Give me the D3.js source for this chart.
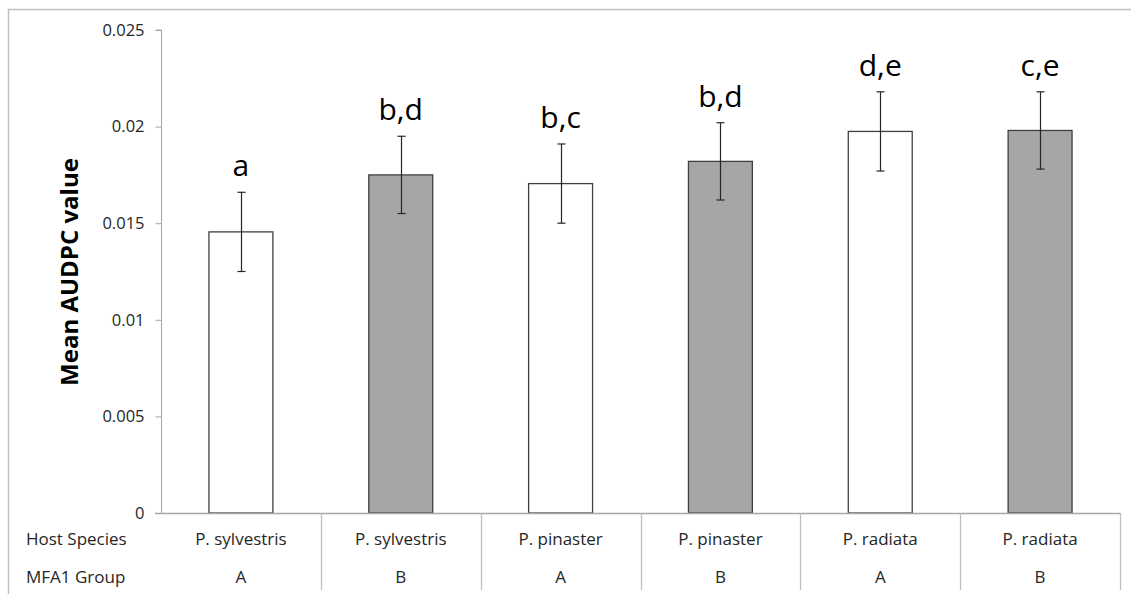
<!DOCTYPE html>
<html><head><meta charset="utf-8">
<script src="https://cdn.jsdelivr.net/npm/d3@7"></script>
<style>body{margin:0;background:#fff;} svg{display:block;}</style>
</head><body>
<svg id="c" width="1131" height="594"></svg>
<script>
const hostSpecies = ["P. sylvestris","P. sylvestris","P. pinaster","P. pinaster","P. radiata","P. radiata"];
const mfa1Group = ["A","B","A","B","A","B"];
const meanValues = [0.01455, 0.01750, 0.01705, 0.01820, 0.01975, 0.01980];
const errorValues = [0.00205, 0.00200, 0.00205, 0.00200, 0.00205, 0.00200];
const letters = ["a","b,d","b,c","b,d","d,e","c,e"];
const yTicks = [0, 0.005, 0.01, 0.015, 0.02, 0.025];

const svg = d3.select("#c");
const font = "'Open Sans', sans-serif";
const plotLeft = 161, plotRight = 1120, plotTop = 30, zeroY = 513;
const cats = d3.range(hostSpecies.length);
const x = d3.scaleBand().domain(cats).range([plotLeft, plotRight]).paddingInner(0).paddingOuter(0);
const y = d3.scaleLinear().domain([0, 0.025]).range([zeroY, plotTop]);

// outer border
svg.append("path").attr("d", `M8.5,600 V9.5 H1131`).attr("fill","none").attr("stroke","#bfbfbf").attr("stroke-width",1.5);

// bars
const bw = x.bandwidth()*0.4;
svg.selectAll("rect.bar").data(cats).enter().append("rect")
  .attr("x", i => x(i) + (x.bandwidth()-bw)/2)
  .attr("y", i => y(meanValues[i]))
  .attr("width", bw)
  .attr("height", i => zeroY - y(meanValues[i]))
  .attr("fill", i => mfa1Group[i]==="A" ? "#ffffff" : "#a6a6a6")
  .attr("stroke", "#404040").attr("stroke-width", 1.3);

// error bars
const eb = svg.append("g").attr("stroke","#262626").attr("stroke-width",1.2);
cats.forEach(i => {
  const cx = Math.round(x(i) + x.bandwidth()/2) + 0.5;
  const y1 = y(meanValues[i]+errorValues[i]), y0 = y(meanValues[i]-errorValues[i]);
  eb.append("line").attr("x1",cx).attr("x2",cx).attr("y1",y1).attr("y2",y0);
  eb.append("line").attr("x1",cx-4).attr("x2",cx+4).attr("y1",y1).attr("y2",y1);
  eb.append("line").attr("x1",cx-4).attr("x2",cx+4).attr("y1",y0).attr("y2",y0);
});

// letters
svg.selectAll("text.let").data(cats).enter().append("text")
  .attr("x", i => x(i) + x.bandwidth()/2)
  .attr("y", i => y(meanValues[i]+errorValues[i]) - 16)
  .attr("text-anchor","middle").attr("font-family",font).attr("font-size",30)
  .attr("fill","#000").text(i => letters[i]);

// y axis
const yAxis = d3.axisLeft(y).tickValues(yTicks).tickSize(6).tickPadding(11)
  .tickFormat(d => d===0 ? "0" : String(+d.toFixed(3)));
const ga = svg.append("g").attr("transform",`translate(${plotLeft+0.5},0)`).call(yAxis);
ga.select(".domain").attr("stroke","#a6a6a6").attr("d", `M-6,${plotTop}H0V${zeroY}`);
ga.selectAll(".tick line").attr("stroke","#a6a6a6");
ga.selectAll(".tick text").attr("font-family",font).attr("font-size",16.5).attr("fill","#262626");

// y title
svg.append("text").attr("transform","translate(68,272) rotate(-90)")
  .attr("text-anchor","middle").attr("dominant-baseline","central")
  .attr("font-family",font).attr("font-weight","bold").attr("font-size",24)
  .attr("fill","#000").text("Mean AUDPC value");

// data table lines
const tl = svg.append("g").attr("stroke","#bfbfbf").attr("stroke-width",1.3);
tl.append("line").attr("x1",plotLeft-6).attr("x2",plotRight).attr("y1",zeroY+0.5).attr("y2",zeroY+0.5).attr("stroke","#a6a6a6");
cats.forEach(i => {
  const xr = Math.round(x(i)+x.bandwidth()) + 0.5;
  tl.append("line").attr("x1",xr).attr("x2",xr).attr("y1",zeroY).attr("y2",590);
});

// table texts
svg.append("text").attr("x",26).attr("y",538).attr("dominant-baseline","central")
  .attr("font-family",font).attr("font-size",17).attr("fill","#262626").text("Host Species");
svg.append("text").attr("x",26).attr("y",576).attr("dominant-baseline","central")
  .attr("font-family",font).attr("font-size",17).attr("fill","#262626").text("MFA1 Group");
svg.selectAll("text.hs").data(cats).enter().append("text")
  .attr("x", i => x(i)+x.bandwidth()/2).attr("y",538).attr("dominant-baseline","central")
  .attr("text-anchor","middle").attr("font-family",font).attr("font-size",17).attr("fill","#262626")
  .text(i => hostSpecies[i]);
svg.selectAll("text.mg").data(cats).enter().append("text")
  .attr("x", i => x(i)+x.bandwidth()/2).attr("y",576).attr("dominant-baseline","central")
  .attr("text-anchor","middle").attr("font-family",font).attr("font-size",17).attr("fill","#262626")
  .text(i => mfa1Group[i]);
</script>
</body></html>
